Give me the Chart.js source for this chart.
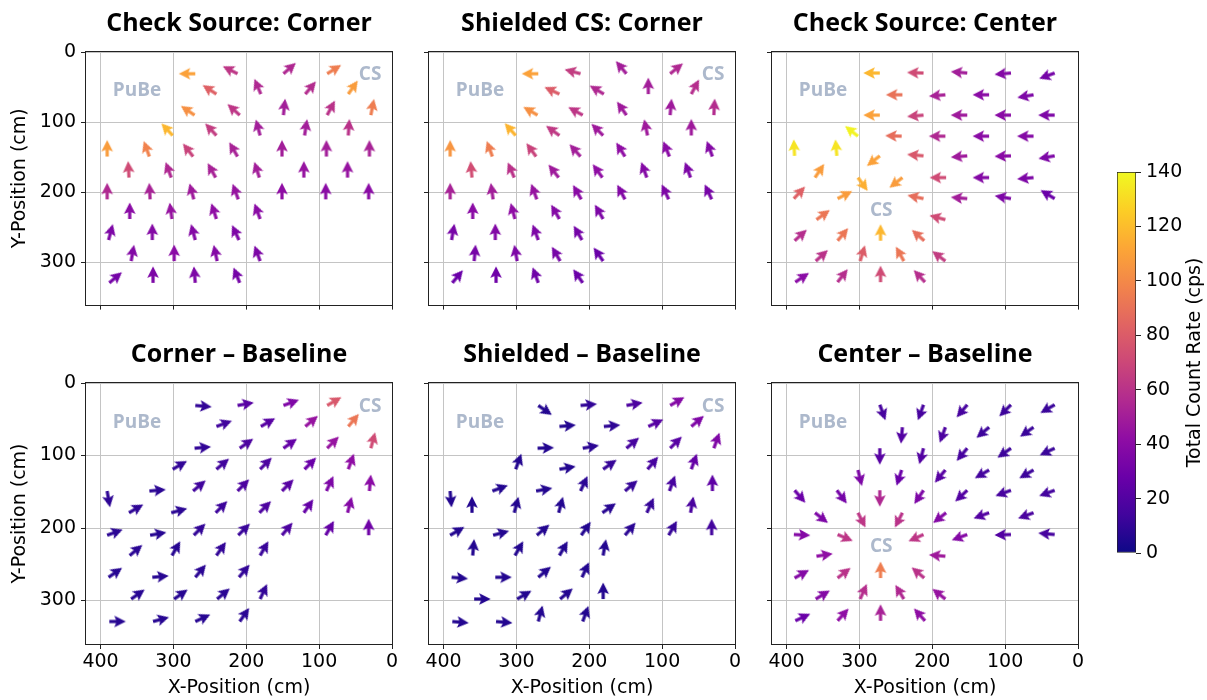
<!DOCTYPE html>
<html>
<head>
<meta charset="utf-8">
<script src="https://cdn.jsdelivr.net/npm/chart.js@4.4.1/dist/chart.umd.min.js"></script>
<style>
  body { margin: 0; background: #fff; }
  #fig { position: relative; width: 1207px; height: 700px; overflow: hidden; }
  #fig canvas { position: absolute; }
</style>
</head>
<body>
<div id="fig">
  <canvas id="p0" width="406" height="321" style="left:0;top:0"></canvas>
  <canvas id="p1" width="406" height="321" style="left:343px;top:0"></canvas>
  <canvas id="p2" width="406" height="321" style="left:686px;top:0"></canvas>
  <canvas id="p3" width="406" height="369" style="left:0;top:331px"></canvas>
  <canvas id="p4" width="406" height="369" style="left:343px;top:331px"></canvas>
  <canvas id="p5" width="406" height="369" style="left:686px;top:331px"></canvas>
  <canvas id="cbar" width="107" height="420" style="left:1100px;top:150px"></canvas>
</div>
<script>
// ---- data ---------------------------------------------------------------
const TITLES = ['Check Source: Corner', 'Shielded CS: Corner', 'Check Source: Center',
                'Corner \u2013 Baseline', 'Shielded \u2013 Baseline', 'Center \u2013 Baseline'];
const X_TICKS = [400, 300, 200, 100, 0];
const Y_TICKS = [0, 100, 200, 300];
const CBAR_TICKS = [0, 20, 40, 60, 80, 100, 120, 140];
const RATE_MAX = 140;

// measurement positions (cm), source in the corner
const CORNER_X = [
  270, 212, 149, 89,
  241, 180, 119, 60,
  271, 209, 149, 89, 29,
  301, 241, 181, 120, 60,
  391, 333, 273, 212, 151, 90, 31,
  361, 303, 242, 182, 121, 61,
  391, 332, 272, 211, 151, 91, 32,
  360, 302, 241, 181,
  389, 329, 270, 210,
  358, 299, 240, 181,
  388, 328, 270, 209
];
const CORNER_Y = [
  31, 31, 31, 31,
  60, 60, 60, 60,
  90, 90, 90, 90, 90,
  119, 119, 119, 119, 119,
  149, 149, 149, 149, 149, 149, 149,
  179, 179, 179, 179, 179, 179,
  210, 210, 210, 210, 210, 210, 210,
  238, 238, 238, 238,
  268, 268, 268, 268,
  298, 298, 298, 298,
  329, 329, 329, 329
];
// measurement positions (cm), source in the center
const CENTER_X = [
  272, 212, 152, 92, 32,
  241, 182, 122, 61,
  272, 212, 152, 92, 32,
  302, 242, 182, 122, 61,
  389, 331, 272, 212, 152, 92, 32,
  361, 302, 241, 181, 122, 61,
  390, 330, 212, 152, 92, 32,
  359, 182,
  389, 330, 271, 211,
  360, 299, 239, 182,
  388, 330, 271, 210
];
const CENTER_Y = [
  30, 30, 30, 30, 30,
  61, 61, 61, 61,
  90, 90, 90, 90, 90,
  120, 120, 120, 120, 120,
  148, 148, 148, 148, 148, 148, 148,
  179, 179, 179, 179, 179, 179,
  209, 209, 209, 209, 209, 209,
  239, 239,
  269, 269, 269, 269,
  298, 298, 298, 298,
  328, 328, 328, 328
];

// arrow direction in degrees, clockwise from screen-up, and total count rate (cps)
const CS_CORNER_ANGLE = [
  -90, -63, 49, 58,
  -57, -23, 40, 35,
  -56, -48, 6, 28, 11,
  -43, -43, -15, 9, 4,
  0, -20, -38, -30, 0, 0, 0,
  -3, -20, -29, -18, 0, 0,
  0, -3, -15, -20, 0, 0, 0,
  0, -8, -18, -20,
  15, 0, -15, -25,
  10, 0, -12, -20,
  50, 0, -5, -22
];
const CS_CORNER_RATE = [
  110, 62, 55, 95,
  82, 55, 57, 108,
  103, 62, 50, 60, 95,
  118, 65, 50, 50, 60,
  108, 97, 68, 52, 50, 50, 52,
  72, 55, 52, 50, 45, 45,
  55, 52, 48, 45, 42, 40, 40,
  40, 45, 42, 40,
  35, 38, 38, 35,
  37, 40, 38, 35,
  32, 35, 35, 32
];
const SHIELD_ANGLE = [
  -90, -75, -40, 51,
  -65, -59, 0, 28,
  -60, -61, -35, 5, 3,
  -42, -54, -45, -12, 0,
  0, -20, -36, -42, -32, -22, -20,
  -5, -23, -38, -36, -20, -20,
  0, -8, -20, -30, -28, -25, -25,
  0, -15, -30, -30,
  10, 0, -20, -30,
  5, -10, -30, -35,
  40, 0, -20, -35
];
const SHIELD_RATE = [
  110, 65, 50, 55,
  80, 55, 50, 58,
  103, 62, 48, 48, 57,
  117, 63, 48, 48, 48,
  105, 95, 68, 50, 42, 40, 38,
  73, 60, 48, 42, 38, 35,
  52, 50, 45, 40, 37, 35, 33,
  40, 42, 38, 35,
  33, 37, 35, 32,
  33, 35, 33, 28,
  28, 30, 30, 28
];
const CENTER_ANGLE = [
  -90, -88, -85, -95, -110,
  -90, -95, -90, -100,
  -90, -95, -90, -90, -90,
  -52, -88, -90, -90, -90,
  -3, -5, -128, -85, -95, -92, -100,
  34, 144, -128, -90, -90, -95,
  43, 63, -78, -85, -80, -59,
  54, -75,
  48, 40, 0, -49,
  48, 17, -29, -53,
  56, 38, 0, -43
];
const CENTER_RATE = [
  118, 72, 50, 38, 32,
  90, 52, 40, 35,
  110, 68, 48, 40, 35,
  138, 88, 55, 40, 38,
  133, 133, 110, 78, 48, 40, 35,
  108, 115, 108, 72, 38, 35,
  82, 108, 88, 50, 35, 28,
  92, 72,
  58, 92, 118, 88,
  60, 80, 92, 65,
  40, 58, 72, 58
];
const CORNER_DIFF_ANGLE = [
  95, 80, 70, 60,
  70, 60, 50, 40,
  85, 55, 55, 45, 15,
  60, 50, 45, 45, 20,
  170, 85, 50, 45, 45, 25, 5,
  60, 75, 45, 45, 35, 15,
  70, 80, 45, 45, 40, 30, 0,
  50, 30, 35, 30,
  55, 85, 40, 40,
  55, 55, 50, 25,
  90, 75, 65, 35
];
const CORNER_DIFF_RATE = [
  10, 22, 36, 78,
  14, 22, 45, 92,
  10, 18, 26, 45, 72,
  10, 14, 18, 28, 42,
  9, 8, 14, 18, 22, 35, 40,
  9, 8, 13, 18, 26, 38,
  8, 7, 10, 12, 18, 26, 30,
  8, 7, 10, 12,
  7, 7, 8, 10,
  7, 7, 8, 10,
  7, 7, 7, 8
];
const SHIELD_DIFF_ANGLE = [
  125, 85, 80, 60,
  85, 85, 65, 50,
  88, 80, 50, 45, 20,
  20, 80, 55, 40, 20,
  175, 70, 80, 25, 50, 20, 0,
  0, 15, 15, 55, 25, 10,
  60, 75, 50, 35, 40, 30, 0,
  5, 30, 30, 10,
  95, 90, 50, 25,
  90, 60, 50, 0,
  95, 95, 15, 20
];
const SHIELD_DIFF_RATE = [
  6, 10, 18, 38,
  6, 9, 22, 36,
  6, 8, 16, 22, 36,
  6, 6, 11, 16, 26,
  6, 6, 6, 8, 11, 16, 24,
  6, 6, 6, 7, 11, 17,
  6, 6, 6, 6, 8, 11, 15,
  6, 6, 6, 6,
  6, 6, 6, 6,
  6, 6, 6, 6,
  6, 6, 6, 6
];
const CENTER_DIFF_ANGLE = [
  160, -160, -140, -135, -120,
  -175, -160, -130, -125,
  180, -165, -140, -125, -115,
  166, -162, -140, -120, -120,
  139, 143, 180, -146, -133, -110, -110,
  128, 153, -153, -128, -110, -110,
  93, 113, -114, -110, -92, -85,
  81, -85,
  61, 52, 0, -50,
  59, 24, -31, -52,
  65, 42, 0, -42
];
const CENTER_DIFF_RATE = [
  16, 16, 16, 13, 12,
  20, 18, 13, 12,
  22, 20, 16, 13, 12,
  35, 28, 22, 15, 13,
  28, 32, 55, 35, 20, 16, 15,
  35, 62, 60, 38, 20, 17,
  38, 62, 62, 38, 20, 16,
  42, 48,
  38, 60, 95, 60,
  38, 58, 55, 45,
  28, 42, 52, 42
];

// source labels (cm)
const CORNER_LABELS = [{text: 'PuBe', x: 350, y: 51}, {text: 'CS', x: 30, y: 28}];
const CENTER_LABELS = [{text: 'PuBe', x: 350, y: 51}, {text: 'CS', x: 270, y: 222}];

// ---- colours ------------------------------------------------------------
const PLASMA = ['#0d0887', '#41049d', '#6a00a8', '#8f0da4', '#b12a90', '#cc4778',
                '#e16462', '#f2844b', '#fca636', '#fcce25', '#f0f921'];

function hexToRgb(h) {
    return [parseInt(h.slice(1, 3), 16), parseInt(h.slice(3, 5), 16), parseInt(h.slice(5, 7), 16)];
}

function rateColor(v) {
    const t = Math.max(0, Math.min(1, v / RATE_MAX)) * (PLASMA.length - 1);
    const i = Math.min(Math.floor(t), PLASMA.length - 2);
    const f = t - i;
    const a = hexToRgb(PLASMA[i]), b = hexToRgb(PLASMA[i + 1]);
    const c = a.map((x, k) => Math.round(x + (b[k] - x) * f));
    return 'rgb(' + c.join(',') + ')';
}

// quiver-style arrow, tail at the image centre, pointing up
const arrowCache = {};
function arrowImage(color) {
    if (arrowCache[color]) return arrowCache[color];
    const c = document.createElement('canvas');
    c.width = 38; c.height = 38;
    const g = c.getContext('2d');
    const cx = 19, cy = 19;
    const len = 16.5, shaft = 1.6, headW = 5.8, headL = 11.5, axisL = 9.8;
    g.beginPath();
    g.moveTo(cx - shaft, cy);
    g.lineTo(cx - shaft, cy - (len - axisL));
    g.lineTo(cx - headW, cy - (len - headL));
    g.lineTo(cx, cy - len);
    g.lineTo(cx + headW, cy - (len - headL));
    g.lineTo(cx + shaft, cy - (len - axisL));
    g.lineTo(cx + shaft, cy);
    g.closePath();
    g.fillStyle = color;
    g.fill();
    arrowCache[color] = c;
    return c;
}

// ---- charts -------------------------------------------------------------
const TICK_FONT = {family: '"DejaVu Sans"', size: 19};
const GRID_COLOR = '#c4c4c4';

const panelDecor = {
    id: 'panelDecor',
    beforeDatasetsDraw(chart, args, opts) {
        const {ctx, scales: {x, y}} = chart;
        ctx.save();
        ctx.font = 'bold 19px "Open Sans"';
        ctx.fillStyle = '#adb9cc';
        ctx.textAlign = 'center';
        ctx.textBaseline = 'middle';
        // +3px: Open Sans sits high on the 'middle' baseline
        opts.labels.forEach(l => ctx.fillText(l.text, x.getPixelForValue(l.x), y.getPixelForValue(l.y) + 3));
        ctx.restore();
    },
    afterDraw(chart, args, opts) {
        const {ctx, chartArea: a} = chart;
        ctx.save();
        ctx.strokeStyle = '#222';
        ctx.lineWidth = 1;
        ctx.strokeRect(Math.round(a.left) - 0.5, Math.round(a.top) - 0.5,
                       Math.round(a.width) + 1, Math.round(a.height) + 1);
        ctx.font = 'bold 25px "Open Sans"';
        ctx.fillStyle = '#000';
        ctx.textAlign = 'center';
        ctx.textBaseline = 'middle';
        ctx.fillText(opts.title, (a.left + a.right) / 2, a.top - 28);
        ctx.restore();
    }
};

const PANELS = [
    {xs: CORNER_X, ys: CORNER_Y, angle: CS_CORNER_ANGLE, rate: CS_CORNER_RATE, labels: CORNER_LABELS},
    {xs: CORNER_X, ys: CORNER_Y, angle: SHIELD_ANGLE, rate: SHIELD_RATE, labels: CORNER_LABELS},
    {xs: CENTER_X, ys: CENTER_Y, angle: CENTER_ANGLE, rate: CENTER_RATE, labels: CENTER_LABELS},
    {xs: CORNER_X, ys: CORNER_Y, angle: CORNER_DIFF_ANGLE, rate: CORNER_DIFF_RATE, labels: CORNER_LABELS},
    {xs: CORNER_X, ys: CORNER_Y, angle: SHIELD_DIFF_ANGLE, rate: SHIELD_DIFF_RATE, labels: CORNER_LABELS},
    {xs: CENTER_X, ys: CENTER_Y, angle: CENTER_DIFF_ANGLE, rate: CENTER_DIFF_RATE, labels: CENTER_LABELS}
];

PANELS.forEach((p, i) => {
    const col = i % 3;
    const bottomRow = i >= 3;
    new Chart(document.getElementById('p' + i), {
        type: 'scatter',
        data: {
            datasets: [{
                data: p.xs.map((x, k) => ({x: x, y: p.ys[k]})),
                pointStyle: ctx => arrowImage(rateColor(p.rate[ctx.dataIndex])),
                pointRotation: ctx => p.angle[ctx.dataIndex],
                pointRadius: 10,
                clip: false
            }]
        },
        options: {
            responsive: false,
            animation: false,
            events: [],
            layout: {padding: {top: 52, right: 14, left: 0, bottom: 0}},
            plugins: {
                legend: {display: false},
                tooltip: {enabled: false},
                panelDecor: {title: TITLES[i], labels: p.labels}
            },
            scales: {
                x: {
                    type: 'linear', min: 0, max: 420, reverse: true,
                    afterBuildTicks: s => { s.ticks = X_TICKS.map(v => ({value: v})); },
                    afterFit: s => { s.height = bottomRow ? 56 : 8; },
                    ticks: {
                        font: TICK_FONT, color: '#000', padding: 2, maxRotation: 0, autoSkip: false,
                        callback: v => bottomRow ? String(v) : ''
                    },
                    grid: {color: GRID_COLOR, lineWidth: 1, tickLength: 5, tickColor: '#222'},
                    border: {display: false},
                    title: {display: bottomRow, text: 'X-Position (cm)', font: TICK_FONT, color: '#000',
                            padding: {top: 0, bottom: 1}}
                },
                y: {
                    type: 'linear', min: 0, max: 360, reverse: true,
                    afterBuildTicks: s => { s.ticks = Y_TICKS.map(v => ({value: v})); },
                    afterFit: s => { s.width = 86; },
                    ticks: {
                        font: TICK_FONT, color: '#000', padding: 5, autoSkip: false,
                        callback: v => col === 0 ? String(v) : ''
                    },
                    grid: {color: GRID_COLOR, lineWidth: 1, tickLength: 5, tickColor: '#222'},
                    border: {display: false},
                    title: {display: col === 0, text: 'Y-Position (cm)', font: TICK_FONT, color: '#000',
                            padding: {top: 9, bottom: 0}}
                }
            }
        },
        plugins: [panelDecor]
    });
});

// colour bar
const cbarLabel = {
    id: 'cbarLabel',
    afterDraw(chart) {
        const {ctx, chartArea: a} = chart;
        ctx.save();
        ctx.translate(a.right + 59, (a.top + a.bottom) / 2);
        ctx.rotate(-Math.PI / 2);
        ctx.font = '19px "DejaVu Sans"';
        ctx.fillStyle = '#000';
        ctx.textAlign = 'center';
        ctx.textBaseline = 'middle';
        ctx.fillText('Total Count Rate (cps)', 0, 0);
        ctx.restore();
    }
};

new Chart(document.getElementById('cbar'), {
    type: 'bar',
    data: {
        labels: [''],
        datasets: [{
            data: [RATE_MAX],
            barPercentage: 1,
            categoryPercentage: 1,
            borderWidth: 1,
            borderColor: '#222',
            borderSkipped: false,
            backgroundColor: ctx => {
                const a = ctx.chart.chartArea;
                if (!a) return PLASMA[0];
                const g = ctx.chart.ctx.createLinearGradient(0, a.bottom, 0, a.top);
                PLASMA.forEach((c, k) => g.addColorStop(k / (PLASMA.length - 1), c));
                return g;
            }
        }]
    },
    options: {
        responsive: false,
        animation: false,
        events: [],
        layout: {padding: {top: 22, bottom: 17, left: 17, right: 0}},
        plugins: {legend: {display: false}, tooltip: {enabled: false}},
        scales: {
            x: {display: false},
            y: {
                position: 'right', min: 0, max: RATE_MAX,
                afterBuildTicks: s => { s.ticks = CBAR_TICKS.map(v => ({value: v})); },
                afterFit: s => { s.width = 71; },
                ticks: {font: TICK_FONT, color: '#000', padding: 5},
                grid: {drawOnChartArea: false, tickLength: 5, tickColor: '#222'},
                border: {display: false}
            }
        }
    },
    plugins: [cbarLabel]
});
</script>
</body>
</html>
